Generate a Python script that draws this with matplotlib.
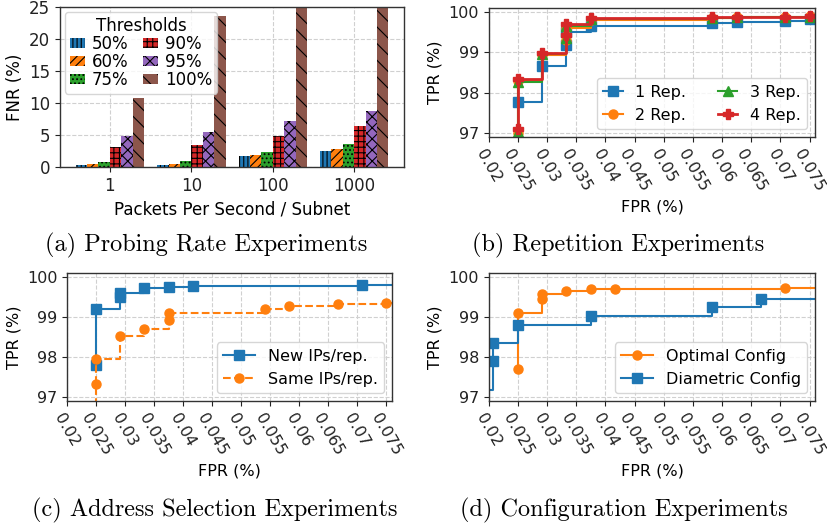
import numpy as np
import matplotlib.pyplot as plt

# (a) probing rate experiments: FNR (%) per threshold
rates = ['1', '10', '100', '1000']
thresholds = ['50%', '60%', '75%', '90%', '95%', '100%']
fnr_50 = [0.3, 0.3, 1.7, 2.5]
fnr_60 = [0.45, 0.45, 1.9, 2.8]
fnr_75 = [0.8, 0.9, 2.4, 3.6]
fnr_90 = [3.1, 3.4, 4.9, 6.4]
fnr_95 = [4.9, 5.5, 7.1, 8.8]
fnr_100 = [10.8, 23.6, 30.0, 32.0]

# (b) repetition experiments
rep_fpr = [0.025, 0.025, 0.0292, 0.0333, 0.0333, 0.0375, 0.0583, 0.0625, 0.0708, 0.075, 0.0792]
rep1_fpr = [0.025, 0.0292, 0.0333, 0.0333, 0.0375, 0.0583, 0.0625, 0.0708, 0.075, 0.0792]
rep1_tpr = [97.77, 98.66, 99.19, 99.50, 99.66, 99.74, 99.76, 99.78, 99.82, 99.82]
rep2_tpr = [97.00, 98.28, 98.93, 99.30, 99.60, 99.80, 99.86, 99.87, 99.87, 99.89, 99.89]
rep3_tpr = [97.03, 98.27, 98.95, 99.35, 99.65, 99.82, 99.86, 99.87, 99.87, 99.88, 99.88]
rep4_tpr = [97.10, 98.33, 98.99, 99.44, 99.70, 99.85, 99.88, 99.88, 99.88, 99.90, 99.90]

# (c) address selection experiments
new_fpr = [0.025, 0.025, 0.0292, 0.0292, 0.0333, 0.0375, 0.0417, 0.0708, 0.0792]
new_tpr = [97.79, 99.19, 99.49, 99.61, 99.72, 99.76, 99.78, 99.80, 99.80]
same_fpr = [0.025, 0.025, 0.025, 0.0292, 0.0333, 0.0375, 0.0375, 0.0542, 0.0583, 0.0667, 0.075, 0.0792]
same_tpr = [96.50, 97.33, 97.96, 98.52, 98.70, 98.93, 99.10, 99.20, 99.27, 99.32, 99.35, 99.35]

# (d) configuration experiments
opt_fpr = [0.025, 0.025, 0.0292, 0.0292, 0.0333, 0.0375, 0.0417, 0.0708, 0.0792]
opt_tpr = [97.71, 99.11, 99.45, 99.57, 99.65, 99.69, 99.71, 99.72, 99.72]
dia_fpr = [0.0167, 0.0208, 0.0208, 0.025, 0.0375, 0.0583, 0.0667, 0.0792]
dia_tpr = [97.17, 97.89, 98.36, 98.79, 99.02, 99.25, 99.45, 99.45]

fpr_ticks = [0.02, 0.025, 0.03, 0.035, 0.04, 0.045, 0.05, 0.055, 0.06, 0.065, 0.07, 0.075]
fpr_ticklabels = ['0.02', '0.025', '0.03', '0.035', '0.04', '0.045', '0.05', '0.055',
                  '0.06', '0.065', '0.07', '0.075']

C = {'blue': '#1f77b4', 'orange': '#ff7f0e', 'green': '#2ca02c',
     'red': '#d62728', 'purple': '#9467bd', 'brown': '#8c564b'}

plt.rcParams['font.family'] = 'DejaVu Sans'
plt.rcParams['hatch.linewidth'] = 0.8
plt.rcParams['hatch.color'] = 'black'

fig = plt.figure(figsize=(8.27, 5.25), dpi=100)


def style_axes(ax, fs=11.5):
    ax.grid(True, linestyle='--', color='#d0d0d0', linewidth=0.8)
    ax.set_axisbelow(True)
    for s in ax.spines.values():
        s.set_color('#333333')
        s.set_linewidth(1.0)
    ax.tick_params(labelsize=fs, colors='#222222')


def roc_axes(ax):
    style_axes(ax)
    ax.set_xlim(0.02, 0.076)
    ax.set_ylim(96.9, 100.1)
    ax.set_xticks(fpr_ticks)
    ax.set_xticklabels(fpr_ticklabels)
    ax.set_yticks([97, 98, 99, 100])
    plt.setp(ax.get_xticklabels(), rotation=-60, ha='center')
    ax.set_xlabel('FPR (%)', fontsize=11.5)
    ax.set_ylabel('TPR (%)', fontsize=11.5)


# ---- (a) ----
ax = fig.add_axes([0.0726, 0.682, 0.416, 0.305])
style_axes(ax, fs=12)
x = np.arange(len(rates))
w = 0.14
series = [fnr_50, fnr_60, fnr_75, fnr_90, fnr_95, fnr_100]
colors = [C['blue'], C['orange'], C['green'], C['red'], C['purple'], C['brown']]
hatches = ['||||', '////', '....', '+++', 'xxx', '\\\\']
for i, (vals, col, h, lab) in enumerate(zip(series, colors, hatches, thresholds)):
    ax.bar(x + (i - 2.5) * w, vals, w, color=col, hatch=h, label=lab,
           linewidth=0)
ax.set_xticks(x)
ax.set_xticklabels(rates)
ax.set_ylim(0, 25)
ax.set_yticks([0, 5, 10, 15, 20, 25])
ax.set_xlabel('Packets Per Second / Subnet', fontsize=12)
ax.set_ylabel('FNR (%)', fontsize=12)
ax.legend(title='Thresholds', ncol=2, loc='upper left', fontsize=12, title_fontsize=12,
          handlelength=0.9, handleheight=0.6, handletextpad=0.4, columnspacing=0.9,
          labelspacing=0.0, borderpad=0.3, borderaxespad=0.3)

# ---- (b) ----
ax = fig.add_axes([0.591, 0.739, 0.395, 0.2457])
roc_axes(ax)
ms = 6.5
ax.plot(rep1_fpr, rep1_tpr, drawstyle='steps-post', color=C['blue'], marker='s', ms=ms,
        lw=1.5, label='1 Rep.')
ax.plot(rep_fpr, rep2_tpr, drawstyle='steps-post', color=C['orange'], marker='o', ms=ms,
        lw=1.5, label='2 Rep.')
ax.plot(rep_fpr, rep3_tpr, drawstyle='steps-post', color=C['green'], marker='^', ms=ms,
        lw=1.5, label='3 Rep.')
ax.plot(rep_fpr, rep4_tpr, drawstyle='steps-post', color=C['red'], marker='P', ms=ms,
        lw=2.0, label='4 Rep.')
ax.legend(ncol=2, loc='lower right', fontsize=11.5, columnspacing=2.0,
          handlelength=1.2, handletextpad=0.8, borderaxespad=0.5)

# ---- (c) ----
ax = fig.add_axes([0.081, 0.236, 0.393, 0.244])
roc_axes(ax)
ax.plot(new_fpr, new_tpr, drawstyle='steps-post', color=C['blue'], marker='s', ms=ms,
        lw=1.5, label='New IPs/rep.')
ax.plot(same_fpr, same_tpr, drawstyle='steps-post', color=C['orange'], marker='o', ms=ms,
        lw=1.5, ls='--', label='Same IPs/rep.')
ax.legend(loc='lower right', fontsize=11.5, handlelength=2.0, borderaxespad=0.5)

# ---- (d) ----
ax = fig.add_axes([0.591, 0.236, 0.395, 0.244])
roc_axes(ax)
l1, = ax.plot(opt_fpr, opt_tpr, drawstyle='steps-post', color=C['orange'], marker='o', ms=ms,
              lw=1.5, label='Optimal Config')
l2, = ax.plot(dia_fpr, dia_tpr, drawstyle='steps-post', color=C['blue'], marker='s', ms=ms,
              lw=1.5, label='Diametric Config')
ax.legend(handles=[l1, l2], loc='lower right', fontsize=11.5, handlelength=2.0,
          borderaxespad=0.5)

# captions
cap = dict(fontsize=17.5, family='cmr10', ha='center', va='center')
fig.text(206 / 827, 1 - 245 / 525, '(a) Probing Rate Experiments', **cap)
fig.text(618 / 827, 1 - 245 / 525, '(b) Repetition Experiments', **cap)
fig.text(215 / 827, 1 - 510 / 525, '(c) Address Selection Experiments', **cap)
fig.text(624 / 827, 1 - 510 / 525, '(d) Configuration Experiments', **cap)

fig.savefig('out.png', dpi=100)
